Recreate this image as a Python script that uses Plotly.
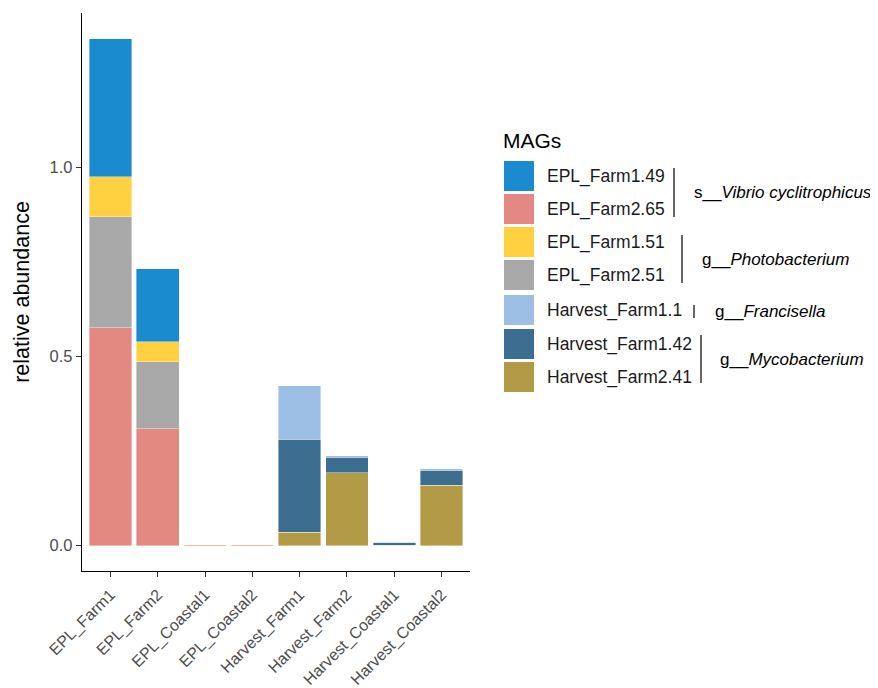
import plotly.graph_objects as go

samples = ["EPL_Farm1", "EPL_Farm2", "EPL_Coastal1", "EPL_Coastal2",
           "Harvest_Farm1", "Harvest_Farm2", "Harvest_Coastal1", "Harvest_Coastal2"]

# segment values per MAG (relative abundance)
EPL_Farm2_65 = [0.576, 0.309, 0.003, 0.002, 0.0, 0.0, 0.0, 0.0]
EPL_Farm2_51 = [0.293, 0.177, 0.0, 0.0, 0.0, 0.0, 0.0, 0.0]
EPL_Farm1_51 = [0.106, 0.053, 0.0, 0.0, 0.0, 0.0, 0.0, 0.0]
EPL_Farm1_49 = [0.365, 0.194, 0.0, 0.002, 0.0, 0.0, 0.0, 0.0]
Harvest_Farm2_41 = [0.0, 0.0, 0.0, 0.0, 0.035, 0.193, 0.001, 0.159]
Harvest_Farm1_42 = [0.0, 0.0, 0.0, 0.0, 0.246, 0.041, 0.006, 0.040]
Harvest_Farm1_1 = [0.0, 0.0, 0.0, 0.0, 0.142, 0.004, 0.002, 0.004]

# legend order (top to bottom) and taxonomy groups
legend_names = ["EPL_Farm1.49", "EPL_Farm2.65", "EPL_Farm1.51", "EPL_Farm2.51",
                "Harvest_Farm1.1", "Harvest_Farm1.42", "Harvest_Farm2.41"]
taxa = [("s__", "Vibrio cyclitrophicus"), ("g__", "Photobacterium"),
        ("g__", "Francisella"), ("g__", "Mycobacterium")]

colors = {
    "EPL_Farm1.49": "#1A8BCF",
    "EPL_Farm2.65": "#E48981",
    "EPL_Farm1.51": "#FFD040",
    "EPL_Farm2.51": "#A8A8A8",
    "Harvest_Farm1.1": "#9DBFE6",
    "Harvest_Farm1.42": "#3C6E92",
    "Harvest_Farm2.41": "#B29A47",
}

# stacking order, bottom to top
stack = [("EPL_Farm2.65", EPL_Farm2_65), ("EPL_Farm2.51", EPL_Farm2_51),
         ("EPL_Farm1.51", EPL_Farm1_51), ("EPL_Farm1.49", EPL_Farm1_49),
         ("Harvest_Farm2.41", Harvest_Farm2_41), ("Harvest_Farm1.42", Harvest_Farm1_42),
         ("Harvest_Farm1.1", Harvest_Farm1_1)]

fig = go.Figure()
for name, vals in stack:
    fig.add_trace(go.Bar(x=samples, y=vals, name=name, showlegend=False,
                         marker=dict(color=colors[name], line=dict(color="white", width=0.4)),
                         width=0.9))

# page has an 8px body margin; figure is sized to the remaining window
OFF = 8
W, H = 878 - OFF, 688 - OFF
L, R, T, B = 82, 470, 13, 571  # plot area in page pixels


def px(x):
    return (x - L) / (R - L)


def py(y):
    return (B - y) / (B - T)


FONT = "Liberation Sans, Arial, sans-serif"
shapes = []
annotations = []

# manual legend
annotations.append(dict(x=px(501), y=py(140), xref="paper", yref="paper", text="MAGs",
                        showarrow=False, xanchor="left", yanchor="middle",
                        font=dict(family=FONT, size=21, color="black")))
rows = [161, 194, 227, 260, 295, 329, 362]
for name, top in zip(legend_names, rows):
    shapes.append(dict(type="rect", xref="paper", yref="paper", x0=px(504), x1=px(534),
                       y0=py(top + 30), y1=py(top), fillcolor=colors[name],
                       line=dict(width=0)))
    annotations.append(dict(x=px(545), y=py(top + 15.5), xref="paper", yref="paper",
                            text=name, showarrow=False, xanchor="left", yanchor="middle",
                            font=dict(family=FONT, size=17.5, color="#1a1a1a")))

brackets = [(674, 168, 217, 692), (682, 235, 283, 700), (694, 305, 318, 713), (701, 335, 383, 718)]
for (lx, y0, y1, tx), (pre, genus) in zip(brackets, taxa):
    shapes.append(dict(type="line", xref="paper", yref="paper", x0=px(lx), x1=px(lx),
                       y0=py(y0), y1=py(y1), line=dict(color="black", width=1.2)))
    annotations.append(dict(x=px(tx), y=py((y0 + y1) / 2), xref="paper", yref="paper",
                            text=pre + "<i>" + genus + "</i>", showarrow=False,
                            xanchor="left", yanchor="middle",
                            font=dict(family=FONT, size=17, color="black")))

fig.update_layout(
    width=W, height=H,
    margin=dict(l=L - OFF, r=W - (R - OFF), t=T - OFF, b=H - (B - OFF)),
    paper_bgcolor="white", plot_bgcolor="white",
    barmode="stack", bargap=0.1,
    shapes=shapes, annotations=annotations,
    font=dict(family=FONT),
)
fig.update_xaxes(range=[-0.6, 7.6], showline=True, linecolor="black", linewidth=1.3,
                 ticks="outside", ticklen=5, tickwidth=1.2, tickcolor="#333333",
                 tickangle=-45, tickfont=dict(family=FONT, size=16, color="#4d4d4d"),
                 ticklabelstandoff=2,
                 showgrid=False, zeroline=False, automargin=False)
fig.update_yaxes(range=[-0.067, 1.407], tickvals=[0, 0.5, 1.0], tickformat=".1f",
                 showline=True, linecolor="black", linewidth=1.3,
                 ticks="outside", ticklen=5, tickwidth=1.2, tickcolor="#333333",
                 tickfont=dict(family=FONT, size=16.5, color="#4d4d4d"),
                 title=dict(text="relative abundance", font=dict(family=FONT, size=21.5, color="black"),
                            standoff=14),
                 showgrid=False, zeroline=False, automargin=False)

fig.write_html("out.html")
